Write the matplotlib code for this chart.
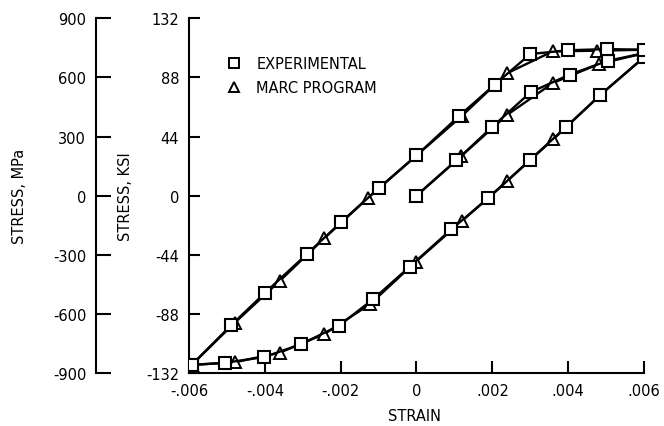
import matplotlib
matplotlib.use("Agg")
import matplotlib.pyplot as plt
from matplotlib.ticker import FixedLocator, FixedFormatter
from matplotlib.lines import Line2D

# ---- data (strain in units of 1e-3, stress in ksi) ----
# Experimental
exp_init_strain = [0.0, 1.05, 1.99, 3.01, 4.04, 5.05, 6.0]
exp_init_stress = [0.0, 26.2, 51.0, 77.0, 90.1, 100.4, 106.0]

exp_unload_strain = [6.0, 4.85, 3.94, 2.99, 1.89, 0.92, -0.18, -1.14, -2.04, -3.04, -4.01, -5.05, -5.93]
exp_unload_stress = [103.0, 75.0, 51.0, 26.5, -2.0, -25.0, -52.9, -77.0, -96.7, -110.5, -120.1, -124.4, -126.0]

exp_reload_strain = [-5.93, -4.89, -3.99, -2.90, -1.98, -0.99, 0.0, 1.12, 2.06, 3.0, 4.0, 5.02, 6.0]
exp_reload_stress = [-126.0, -96.5, -72.2, -43.7, -19.5, 5.7, 29.9, 59.2, 82.6, 105.4, 108.2, 109.1, 108.6]

# MARC program
marc_init_strain = [0.0, 1.17, 2.39, 3.60, 4.81, 6.0]
marc_init_stress = [0.0, 29.2, 60.1, 83.9, 98.0, 106.0]

marc_unload_strain = [6.0, 4.85, 3.60, 2.39, 1.21, -0.02, -1.23, -2.43, -3.61, -4.79, -5.93]
marc_unload_stress = [103.0, 75.0, 41.8, 10.9, -18.6, -49.2, -80.9, -103.0, -116.9, -124.0, -126.0]

marc_reload_strain = [-5.93, -4.79, -3.60, -2.43, -1.28, 1.19, 2.39, 3.59, 4.77, 6.0]
marc_reload_stress = [-126.0, -94.5, -63.3, -31.7, -1.7, 59.2, 91.1, 107.4, 107.9, 108.6]

x_ticks = [-0.006, -0.004, -0.002, 0.0, 0.002, 0.004, 0.006]
x_ticklabels = ["-.006", "-.004", "-.002", "0", ".002", ".004", ".006"]
ksi_ticks = [-132, -88, -44, 0, 44, 88, 132]
mpa_ticks = [-900, -600, -300, 0, 300, 600, 900]

FS = 10.5
plt.rcParams['font.family'] = ['DejaVu Sans']

fig = plt.figure(figsize=(6.64, 4.27), dpi=100)
ax = fig.add_axes([0.2846, 0.1241, 0.6853, 0.8307])

def sc(v):
    return [s * 1e-3 for s in v]

lw = 1.7
mk_sq = dict(marker='s', markersize=8.5, markerfacecolor='white', markeredgecolor='black',
             markeredgewidth=1.5, color='black', linewidth=lw)
mk_tr = dict(marker='^', markersize=8.5, markerfacecolor='white', markeredgecolor='black',
             markeredgewidth=1.4, color='black', linewidth=lw)

ax.plot(sc(marc_init_strain), marc_init_stress, zorder=3, **mk_tr)
ax.plot(sc(marc_unload_strain), marc_unload_stress, zorder=3, **mk_tr)
ax.plot(sc(marc_reload_strain), marc_reload_stress, zorder=3, **mk_tr)
ax.plot(sc(exp_init_strain), exp_init_stress, zorder=4, **mk_sq)
ax.plot(sc(exp_unload_strain), exp_unload_stress, zorder=4, **mk_sq)
ax.plot(sc(exp_reload_strain), exp_reload_stress, zorder=4, **mk_sq)

ax.set_xlim(-0.006, 0.006)
ax.set_ylim(-132, 132)
for s in ['top', 'right']:
    ax.spines[s].set_visible(False)
for s in ['left', 'bottom']:
    ax.spines[s].set_linewidth(1.5)

ax.xaxis.set_major_locator(FixedLocator(x_ticks))
ax.xaxis.set_major_formatter(FixedFormatter(x_ticklabels))
ax.yaxis.set_major_locator(FixedLocator(ksi_ticks))
ax.yaxis.set_major_formatter(FixedFormatter([str(t) for t in ksi_ticks]))
ax.tick_params(axis='x', direction='in', length=9, width=1.5, pad=7, labelsize=FS)
ax.tick_params(axis='y', direction='in', length=8, width=1.5, pad=7, labelsize=FS)

ax.set_xlabel("STRAIN", fontsize=FS)
ax.xaxis.set_label_coords(0.495, -0.098)
ax.set_ylabel("STRESS, KSI", fontsize=FS)
ax.yaxis.set_label_coords(-0.122, 0.5)

# outer MPa axis
ax2 = ax.twinx()
ax2.set_ylim(-900, 900)
for s in ['top', 'right', 'bottom']:
    ax2.spines[s].set_visible(False)
ax2.spines['left'].set_visible(True)
ax2.spines['left'].set_position(('outward', 67))
ax2.spines['left'].set_linewidth(1.5)
ax2.yaxis.set_ticks_position('left')
ax2.yaxis.set_label_position('left')
ax2.yaxis.set_major_locator(FixedLocator(mpa_ticks))
ax2.yaxis.set_major_formatter(FixedFormatter([str(t) for t in mpa_ticks]))
ax2.tick_params(axis='y', direction='in', length=11, width=1.5, pad=7, labelsize=FS)
ax2.set_ylabel("STRESS, MPa", fontsize=FS)
ax2.yaxis.set_label_coords(-0.356, 0.5)

# legend
h1 = Line2D([], [], linestyle='none', marker='s', markersize=7, markerfacecolor='white',
            markeredgecolor='black', markeredgewidth=1.4)
h2 = Line2D([], [], linestyle='none', marker='^', markersize=7, markerfacecolor='white',
            markeredgecolor='black', markeredgewidth=1.4)
leg = ax.legend([h1, h2], ["EXPERIMENTAL", "MARC PROGRAM"], loc='upper left',
                bbox_to_anchor=(0.055, 0.93), frameon=False, fontsize=FS,
                handlelength=1.0, handletextpad=1.0, labelspacing=0.6)

fig.savefig("out.png", dpi=100)
